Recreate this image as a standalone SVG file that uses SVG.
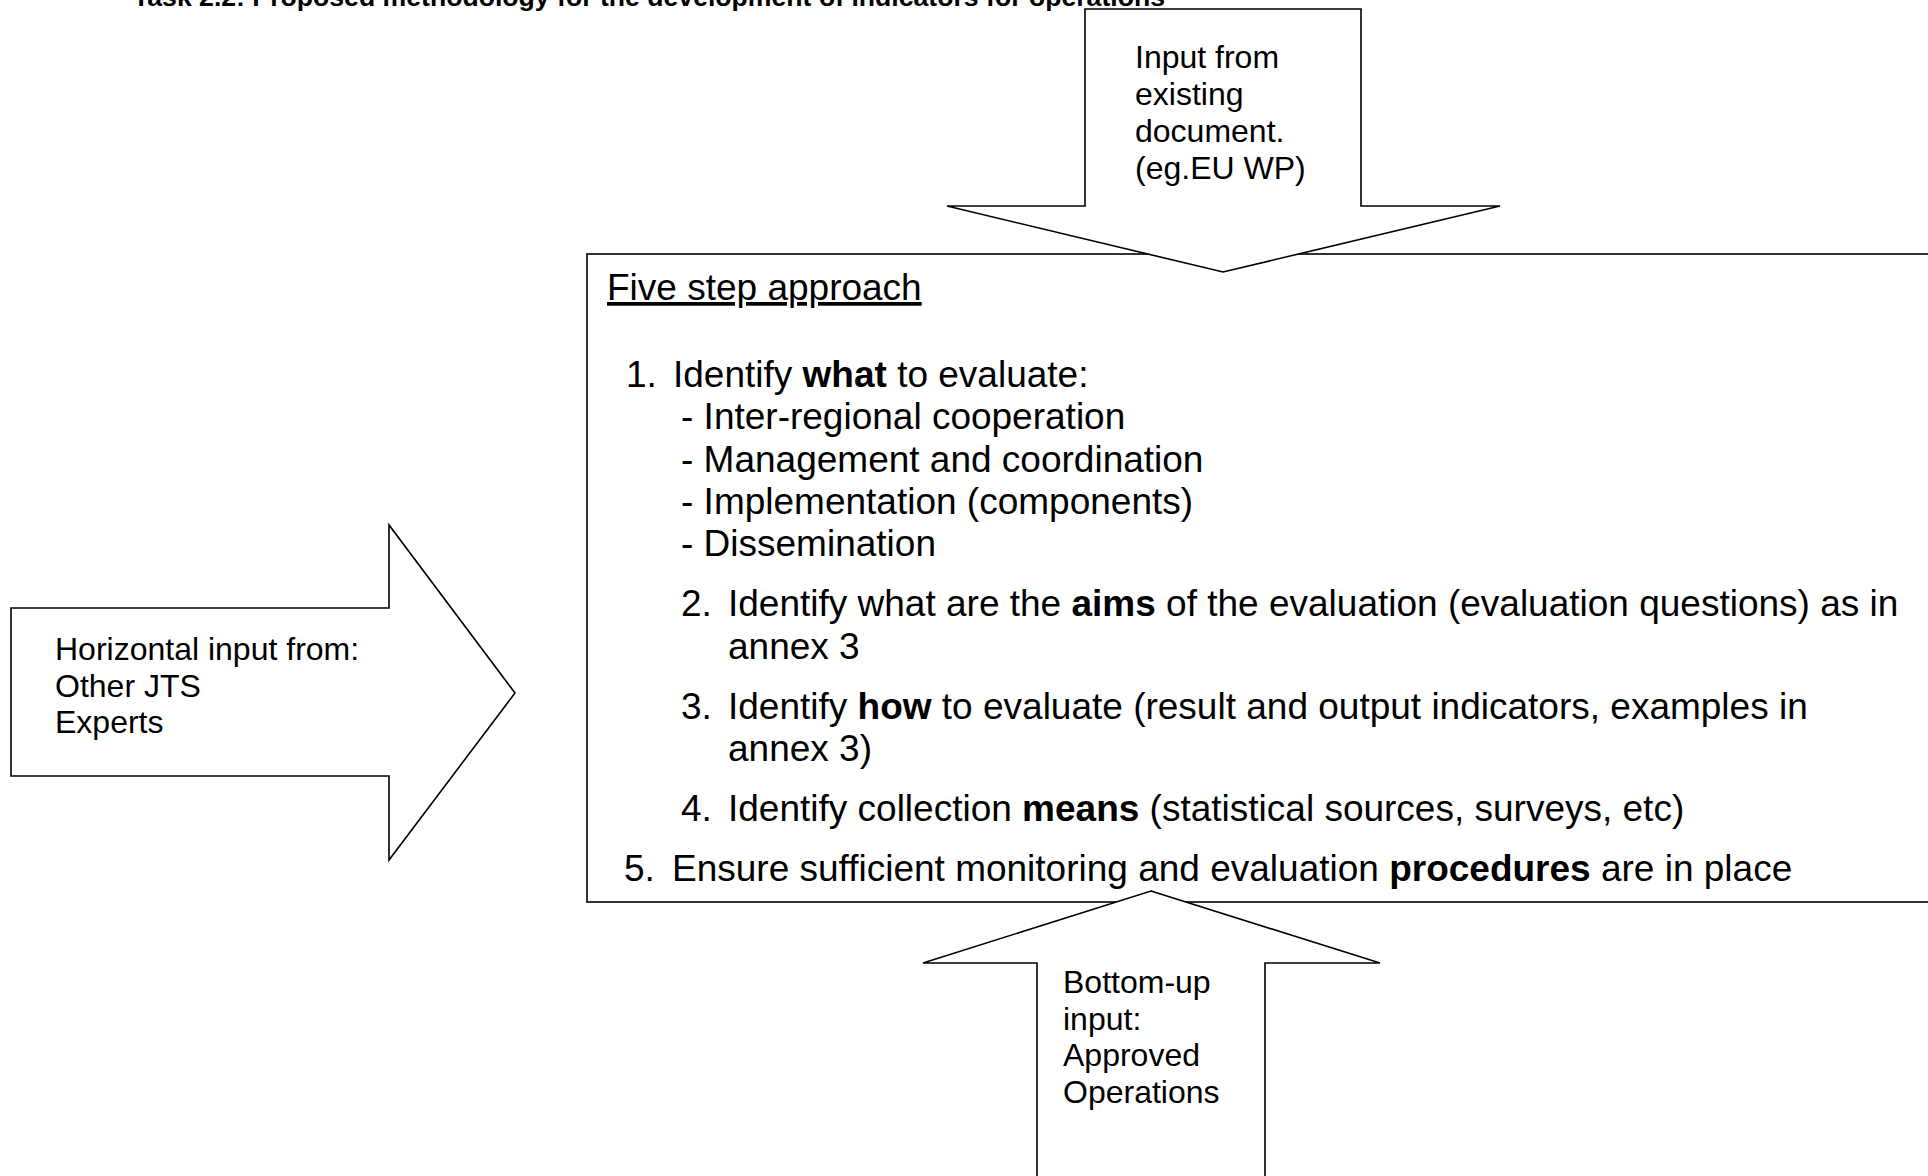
<svg xmlns="http://www.w3.org/2000/svg" width="1928" height="1176" viewBox="0 0 1928 1176">
<style>
text{font-family:"Liberation Sans",Arial,Helvetica,sans-serif;fill:#000}
.shape{fill:#fff;stroke:#000;stroke-width:1.6;stroke-linejoin:miter}
.lbl{font-size:32px}
.main{font-size:37px}
.b{font-weight:bold}
.title{font-size:26.6px;font-weight:bold}
</style>
<rect width="1928" height="1176" fill="#fff"/>
<text class="title" x="133" y="6" textLength="1032" lengthAdjust="spacingAndGlyphs">Task 2.2: Proposed methodology for the development of indicators for operations</text>

<g id="approach-box">
<rect class="shape" x="587" y="254" width="1360" height="648"/>
<text class="main" x="607" y="300" text-decoration="underline">Five step approach</text>
<text class="main" x="626" y="387">1.</text>
<text class="main" x="673" y="387">Identify <tspan class="b">what</tspan> to evaluate:</text>
<text class="main" x="681" y="429">- Inter-regional cooperation</text>
<text class="main" x="681" y="472">- Management and coordination</text>
<text class="main" x="681" y="514">- Implementation (components)</text>
<text class="main" x="681" y="556">- Dissemination</text>
<text class="main" x="681" y="616">2.</text>
<text class="main" x="728" y="616">Identify what are the <tspan class="b">aims</tspan> of the evaluation (evaluation questions) as in</text>
<text class="main" x="728" y="659">annex 3</text>
<text class="main" x="681" y="719">3.</text>
<text class="main" x="728" y="719">Identify <tspan class="b">how</tspan> to evaluate (result and output indicators, examples in</text>
<text class="main" x="728" y="761">annex 3)</text>
<text class="main" x="681" y="821">4.</text>
<text class="main" x="728" y="821">Identify collection <tspan class="b">means</tspan> (statistical sources, surveys, etc)</text>
<text class="main" x="624" y="881">5.</text>
<text class="main" x="672" y="881">Ensure sufficient monitoring and evaluation <tspan class="b">procedures</tspan> are in place</text>
</g>

<g id="connectors">
<g id="top-input">
<polygon class="shape" points="1085,9 1361,9 1361,206 1500,206 1223,272 947,206 1085,206"/>
<text class="lbl" x="1135" y="68">Input from</text>
<text class="lbl" x="1135" y="105">existing</text>
<text class="lbl" x="1135" y="142">document.</text>
<text class="lbl" x="1135" y="179">(eg.EU WP)</text>
</g>
<g id="horizontal-input">
<polygon class="shape" points="11,608 389,608 389,525 515,693 389,860 389,776 11,776"/>
<text class="lbl" x="55" y="660">Horizontal input from:</text>
<text class="lbl" x="55" y="697">Other JTS</text>
<text class="lbl" x="55" y="733">Experts</text>
</g>
<g id="bottom-up-input">
<polygon class="shape" points="1151,891 1380,963 1265,963 1265,1185 1037,1185 1037,963 923,963"/>
<text class="lbl" x="1063" y="993">Bottom-up</text>
<text class="lbl" x="1063" y="1030">input:</text>
<text class="lbl" x="1063" y="1066">Approved</text>
<text class="lbl" x="1063" y="1103">Operations</text>
</g>
</g>
</svg>
